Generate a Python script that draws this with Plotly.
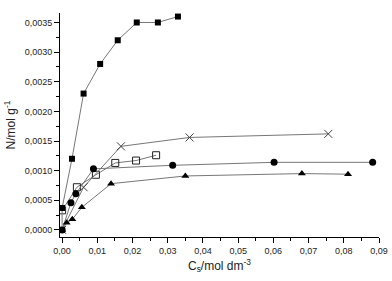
import plotly.graph_objects as go

sq_x = [0.0, 0.0, 0.0028, 0.0061, 0.0108, 0.0158, 0.0212, 0.0272, 0.0329]
sq_y = [0.0, 0.00037, 0.0012, 0.0023, 0.0028, 0.0032, 0.0035, 0.0035, 0.0036]

osq_x = [0.0, 0.0042, 0.0096, 0.0151, 0.0210, 0.0267]
osq_y = [0.00033, 0.00072, 0.00093, 0.00113, 0.00117, 0.00126]

cr_x = [0.0, 0.0061, 0.0167, 0.0362, 0.0756]
cr_y = [0.0, 0.00072, 0.00141, 0.00156, 0.00162]

ci_x = [0.0, 0.0025, 0.0039, 0.0089, 0.0314, 0.0602, 0.0882]
ci_y = [0.0, 0.00046, 0.00061, 0.00103, 0.00109, 0.00114, 0.00114]

tr_x = [0.0, 0.0013, 0.0029, 0.0056, 0.0139, 0.0350, 0.0681, 0.0812]
tr_y = [0.0, 0.00012, 0.00018, 0.00038, 0.00078, 0.00091, 0.00095, 0.00094]

line = dict(color="#777777", width=1)
fig = go.Figure()
fig.add_trace(go.Scatter(x=osq_x, y=osq_y, mode="lines+markers", line=line,
                         marker=dict(symbol="square-open", size=7, color="#222222", line=dict(width=1))))
fig.add_trace(go.Scatter(x=cr_x, y=cr_y, mode="lines+markers", line=line,
                         marker=dict(symbol="x-thin-open", size=8, color="#444444", line=dict(width=1, color="#444444"))))
fig.add_trace(go.Scatter(x=ci_x, y=ci_y, mode="lines+markers", line=line,
                         marker=dict(symbol="circle", size=7, color="black")))
fig.add_trace(go.Scatter(x=tr_x, y=tr_y, mode="lines+markers", line=line,
                         marker=dict(symbol="triangle-up", size=7, color="black")))
fig.add_trace(go.Scatter(x=sq_x, y=sq_y, mode="lines+markers", line=line,
                         marker=dict(symbol="square", size=6, color="black")))

axis_common = dict(showline=True, linecolor="black", linewidth=1, ticks="outside",
                   ticklen=5, tickcolor="black", showgrid=False, zeroline=False,
                   automargin=False,
                   tickfont=dict(family="Liberation Sans, Arial", size=9, color="#222"),
                   minor=dict(ticks="outside", ticklen=3, tickcolor="black", nticks=2))

fig.update_layout(
    width=392, height=281,
    margin=dict(l=60, r=13, t=13, b=44),
    plot_bgcolor="white", paper_bgcolor="white",
    showlegend=False,
    separators=", ",
    font=dict(family="Liberation Sans, Arial", color="#222"),
    xaxis=dict(range=[-0.0006, 0.09], dtick=0.01, tickformat=".2f",
               title=dict(text="C<sub>s</sub>/mol dm<sup>-3</sup>", font=dict(size=12), standoff=6),
               **axis_common),
    yaxis=dict(range=[-0.00012, 0.00366], dtick=0.0005, tickformat=".4f",
               title=dict(text="N/mol g<sup>-1</sup>", font=dict(size=12), standoff=6),
               **axis_common),
)
fig.update_xaxes(minor=dict(dtick=0.005))
fig.update_yaxes(minor=dict(dtick=0.00025))
fig.write_html("out.html",
               config={"displayModeBar": False, "staticPlot": True},
               post_script="document.body.style.margin='0';document.body.style.overflow='hidden';")
